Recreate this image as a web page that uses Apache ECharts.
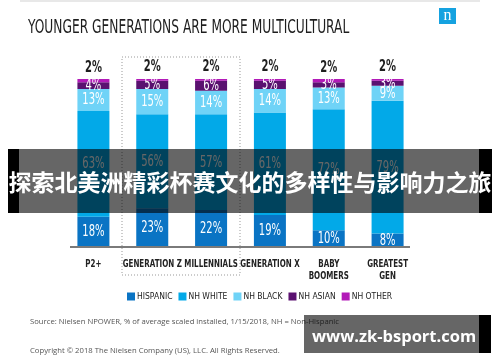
<!DOCTYPE html>
<html><head><meta charset="utf-8">
<script src="https://cdn.jsdelivr.net/npm/echarts@6/dist/echarts.min.js"></script>
<style>html,body{margin:0;padding:0;background:#fff}#c{width:500px;height:362px}</style>
</head><body><div id="c"></div>
<script>
var categories = ['P2+', 'GENERATION Z', 'MILLENNIALS', 'GENERATION X', 'BABY\nBOOMERS', 'GREATEST\nGEN'];
var hispanic = [18, 23, 22, 19, 10, 8];
var nhWhite  = [63, 56, 57, 61, 72, 79];
var nhBlack  = [13, 15, 14, 14, 13, 9];
var nhAsian  = [4, 5, 6, 5, 3, 3];
var nhOther  = [2, 2, 2, 2, 2, 2];
var seriesNames = ['HISPANIC', 'NH WHITE', 'NH BLACK', 'NH ASIAN', 'NH OTHER'];

var COND = '"Liberation Sans Narrow","DejaVu Sans Condensed",sans-serif';
var colors = ['#0a74c4', '#02a9e8', '#6fd3f7', '#5a1170', '#b21ab8'];
var seriesData = [hispanic, nhWhite, nhBlack, nhAsian, nhOther];

// label table built from the arrays: [category index, value position, text, isTop]
var labelRows = [];
categories.forEach(function (c, i) {
  var base = 0;
  seriesData.forEach(function (arr, s) {
    var v = arr[i];
    if (s < 4) labelRows.push([i, base + v / 2, v + '%', 0]);
    else labelRows.push([i, base + v, v + '%', 1]);
    base += v;
  });
});
var catRows = categories.map(function (c, i) { return [i, 0]; });

var chart = echarts.init(document.getElementById('c'), null, {renderer: 'canvas'});

function barSeries(name, data, idx) {
  return {
    name: name, type: 'bar', stack: 'total', data: data, barWidth: 32,
    itemStyle: {color: colors[idx]}
  };
}

chart.setOption({
  animation: false,
  color: colors,
  grid: {left: 64, right: 83, top: 79, bottom: 115},
  xAxis: {
    type: 'category', data: categories,
    axisLine: {show: false}, axisTick: {show: false}, axisLabel: {show: false}
  },
  yAxis: {type: 'value', min: 0, max: 100, show: false},
  legend: {
    top: 292, left: 127, padding: 0, icon: 'rect', itemWidth: 8, itemHeight: 8, itemGap: 6,
    data: seriesNames, selectedMode: false,
    textStyle: {fontFamily: COND, fontSize: 8.5, color: '#222', padding: [0, 0, 0, -3]}
  },
  series: [
    barSeries(seriesNames[0], hispanic, 0),
    barSeries(seriesNames[1], nhWhite, 1),
    barSeries(seriesNames[2], nhBlack, 2),
    barSeries(seriesNames[3], nhAsian, 3),
    barSeries(seriesNames[4], nhOther, 4),
    {
      type: 'custom', name: 'labels', silent: true, z: 10,
      data: labelRows.map(function (r) { return [r[0], r[1]]; }),
      renderItem: function (params, api) {
        var r = labelRows[params.dataIndex];
        var p = api.coord([api.value(0), api.value(1)]);
        var top = r[3] === 1;
        return {
          type: 'text', x: p[0], y: top ? p[1] - 3 : p[1] + 0.5, scaleX: 0.74,
          style: {
            text: r[2], fontFamily: COND, fontSize: 15,
            fontWeight: top ? 'bold' : 'normal',
            fill: top ? '#1e1e1e' : '#fff', align: 'center',
            verticalAlign: top ? 'bottom' : 'middle'
          }
        };
      }
    },
    {
      type: 'custom', name: 'cats', silent: true, z: 10,
      data: catRows,
      renderItem: function (params, api) {
        var p = api.coord([api.value(0), api.value(1)]);
        return {
          type: 'text', x: p[0], y: p[1] + 11, scaleX: 0.72,
          style: {
            text: categories[params.dataIndex], fontFamily: COND, fontSize: 11,
            fontWeight: 'bold', fill: '#222', align: 'center', verticalAlign: 'top', lineHeight: 12
          }
        };
      }
    }
  ],
  graphic: [
    {type: 'rect', shape: {x: 20, y: 0, width: 460, height: 2}, style: {fill: '#e8e8e8'}, z: 1},
    {type: 'text', x: 28, y: 28, scaleX: 0.68, style: {text: 'YOUNGER GENERATIONS ARE MORE MULTICULTURAL', fontFamily: COND, fontSize: 20, fill: '#1e1e1e', verticalAlign: 'middle', align: 'left'}},
    {type: 'rect', shape: {x: 439, y: 8, width: 17, height: 16}, style: {fill: '#15a2e0'}},
    {type: 'text', x: 447.5, y: 16, style: {text: 'n', fontFamily: '"Liberation Serif",serif', fontSize: 16, fill: '#fff', align: 'center', verticalAlign: 'middle'}},
    {type: 'rect', shape: {x: 122, y: 57, width: 118, height: 218}, style: {fill: 'none', stroke: '#999', lineWidth: 1, lineDash: [1, 2]}, z: 5},
    {type: 'line', shape: {x1: 70, y1: 247, x2: 410, y2: 247}, style: {stroke: '#7a7a7a', lineWidth: 2}, z: 5},
    {type: 'text', left: 30, top: 318, style: {text: 'Source: Nielsen NPOWER, % of average scaled installed, 1/15/2018, NH = Non-Hispanic', fontFamily: '"Open Sans",sans-serif', fontSize: 7.7, fill: '#555'}},
    {type: 'text', left: 30, top: 347, style: {text: 'Copyright \u00a9 2018 The Nielsen Company (US), LLC. All Rights Reserved.', fontFamily: '"Open Sans",sans-serif', fontSize: 7.7, fill: '#555'}},
    {type: 'rect', shape: {x: 8, y: 149, width: 484, height: 64}, style: {fill: 'rgba(0,0,0,0.6)'}, z: 20},
    {type: 'rect', shape: {x: 8, y: 149, width: 11, height: 64}, style: {fill: '#000'}, z: 21},
    {type: 'rect', shape: {x: 479, y: 149, width: 13, height: 64}, style: {fill: '#000'}, z: 21},
    {type: 'text', x: 250, y: 182, z: 22, style: {text: '探索北美洲精彩杯赛文化的多样性与影响力之旅', fontFamily: '"Noto Sans CJK SC",sans-serif', fontWeight: 'bold', fontSize: 23, fill: '#fff', align: 'center', verticalAlign: 'middle'}},
    {type: 'rect', shape: {x: 304, y: 315, width: 175, height: 38}, style: {fill: 'rgba(0,0,0,0.6)'}, z: 20},
    {type: 'rect', shape: {x: 479, y: 315, width: 12, height: 38}, style: {fill: '#000'}, z: 21},
    {type: 'text', x: 394, y: 337, z: 22, style: {text: 'www.zk-bsport.com', fontFamily: '"Open Sans","DejaVu Sans",sans-serif', fontWeight: 'bold', fontSize: 16.5, fill: '#fff', align: 'center', verticalAlign: 'middle'}}
  ]
});
</script></body></html>
